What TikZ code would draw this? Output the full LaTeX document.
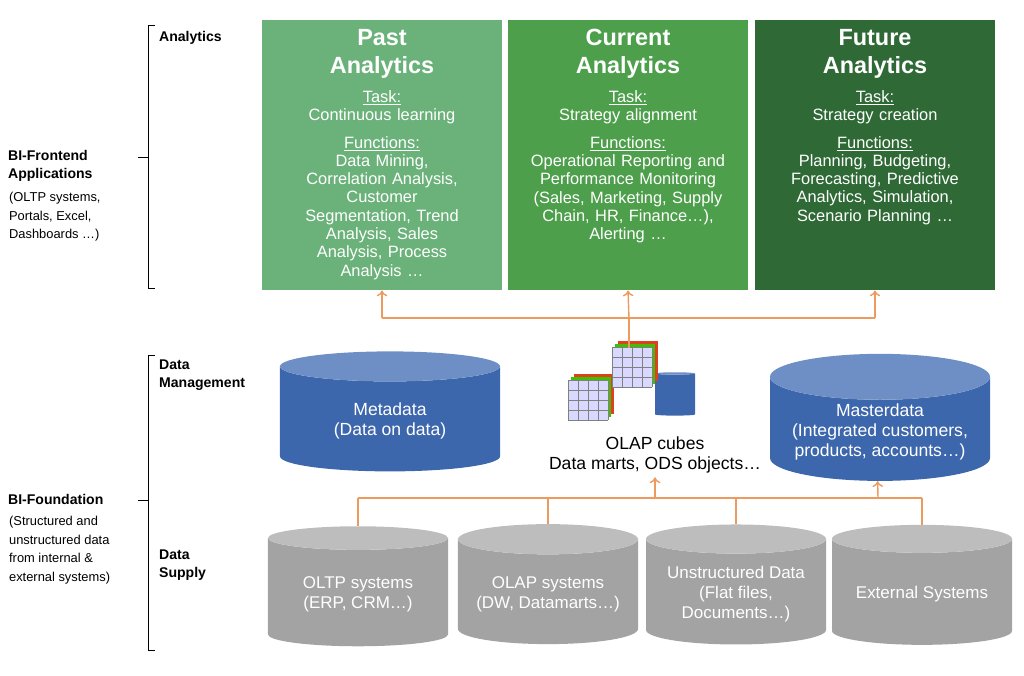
\documentclass[tikz,border=0pt]{standalone}
\usepackage{fontspec}
\setmainfont{Liberation Sans}
\usetikzlibrary{shapes.geometric, arrows, arrows.meta, positioning}
\definecolor{pastgreen}{HTML}{6BB27A}
\definecolor{curgreen}{HTML}{4E9F4C}
\definecolor{futgreen}{HTML}{2F6A36}
\definecolor{dbblue}{HTML}{3D67AC}
\definecolor{dbtop}{HTML}{6E8FC6}
\definecolor{dbgrey}{HTML}{A3A3A3}
\definecolor{dbgreytop}{HTML}{BDBDBD}
\definecolor{link}{HTML}{ED9A5E}
\newcommand{\boxtitle}[2]{{\bfseries\fontsize{20}{22}\selectfont #1}\\[8pt]{\bfseries\fontsize{20}{22}\selectfont #2}\\[9pt]}
\tikzstyle{analytics} = [rectangle, minimum width=7.2cm, minimum height=8.1cm, anchor=north]
\tikzstyle{boxtext} = [text width=7cm, align=center, anchor=north, text=white, font=\fontsize{14}{15.6}\selectfont, inner sep=2pt, yshift=-6pt]
\tikzstyle{bluedb} = [cylinder, shape border rotate=90, aspect=0.25, minimum width=6.6cm, minimum height=3.6cm, draw=none, cylinder uses custom fill, cylinder body fill=dbblue, cylinder end fill=dbtop, text=white, align=center, font=\fontsize{15}{17}\selectfont]
\tikzstyle{greydb} = [cylinder, shape border rotate=90, aspect=0.2, minimum width=5.4cm, minimum height=3.6cm, draw=none, cylinder uses custom fill, cylinder body fill=dbgrey, cylinder end fill=dbgreytop, text=white, align=center, font=\fontsize{14.5}{17}\selectfont]
\tikzstyle{layer} = [font=\bfseries\fontsize{12}{15}\selectfont, align=left, anchor=west]
\tikzstyle{sublayer} = [font=\fontsize{11}{16}\selectfont, align=left, anchor=north west]
\tikzstyle{arrow} = [line width=1.2pt, link, ->, >={To[length=5pt,width=9pt]}]
\tikzstyle{line} = [line width=1.2pt, link, -]

\begin{document}
\begin{tikzpicture}[x=0.03cm, y=-0.03cm]
\useasboundingbox (0,0) rectangle (1024,676);

% Analytics boxes
\node (past) [analytics, fill=pastgreen] at (382,20) {};
\node (current) [analytics, fill=curgreen] at (628,20) {};
\node (future) [analytics, fill=futgreen] at (875,20) {};
\node (pasttext) [boxtext] at (past.north) {\boxtitle{Past}{Analytics}
\underline{Task:}\\Continuous learning\\[8pt]\underline{Functions:}\\Data Mining,\\Correlation Analysis,\\Customer\\Segmentation, Trend\\Analysis, Sales\\Analysis, Process\\Analysis \ldots};
\node (currenttext) [boxtext] at (current.north) {\boxtitle{Current}{Analytics}
\underline{Task:}\\Strategy alignment\\[8pt]\underline{Functions:}\\Operational Reporting and\\Performance Monitoring\\(Sales, Marketing, Supply\\Chain, HR, Finance\ldots),\\Alerting \ldots};
\node (futuretext) [boxtext] at (future.north) {\boxtitle{Future}{Analytics}
\underline{Task:}\\Strategy creation\\[8pt]\underline{Functions:}\\Planning, Budgeting,\\Forecasting, Predictive\\Analytics, Simulation,\\Scenario Planning \ldots};

% Data management
\node (meta) [bluedb] at (390,421) {Metadata\\(Data on data)};
\node (master) [bluedb] at (880,432) {Masterdata\\(Integrated customers,\\products, accounts\ldots)};
\node (mart) [cylinder, shape border rotate=90, aspect=0.3, minimum width=1.2cm, minimum height=1.3cm, cylinder uses custom fill, cylinder body fill=dbblue, cylinder end fill=dbtop] at (675,395) {};
\node (olap) [align=center, font=\fontsize{15}{17}\selectfont] at (655,455) {OLAP cubes\\Data marts, ODS objects\ldots};
% cubes
\foreach \cx/\cy in {568/380, 612/347} {
  \fill[red!50!brown] (\cx+6,\cy-6) rectangle (\cx+46,\cy+34);
  \fill[green!50!olive] (\cx+3,\cy-3) rectangle (\cx+43,\cy+37);
  \fill[blue!15] (\cx,\cy) rectangle (\cx+40,\cy+40);
  \foreach \k in {0,10,...,40} {
    \draw[gray] (\cx+\k,\cy) -- (\cx+\k,\cy+40);
    \draw[gray] (\cx,\cy+\k) -- (\cx+40,\cy+\k);
  }
}

% Data supply
\node (oltp) [greydb] at (358,594) {OLTP systems\\(ERP, CRM\ldots)};
\node (olapsys) [greydb] at (548,594) {OLAP systems\\(DW, Datamarts\ldots)};
\node (unstr) [greydb] at (736,594) {Unstructured Data\\(Flat files,\\Documents\ldots)};
\node (ext) [greydb] at (922,594) {External Systems};

% Layer labels
\node (lanalytics) [layer] at (155,38) {Analytics};
\node (lfront) [layer] at (4,166) {BI-Frontend\\Applications};
\node (lfrontsub) [sublayer] at (5,188) {(OLTP systems,\\Portals, Excel,\\Dashboards \ldots)};
\node (lmgmt) [layer] at (155,375) {Data\\Management};
\node (lfound) [layer] at (4,499) {BI-Foundation};
\node (lfoundsub) [sublayer] at (5,512) {(Structured and\\unstructured data\\from internal \&\\external systems)};
\node (lsupply) [layer] at (155,565) {Data\\Supply};

% Brackets
\draw[thick] (155,25) -- (148,25) -- (148,288) -- (155,288);
\draw[thick] (138,157) -- (148,157);
\draw[thick] (155,355) -- (148,355) -- (148,650) -- (155,650);
\draw[thick] (138,500) -- (148,500);

% Links up to analytics
\coordinate (topbus) at (629,318);
\draw [line] (olap.north -| topbus) ++(0,-85) -- (topbus);
\draw [line] (past.south |- topbus) -- (future.south |- topbus);
\draw [arrow] (past.south |- topbus) -- (past.south);
\draw [arrow] (topbus) -- (current.south);
\draw [arrow] (future.south |- topbus) -- (future.south);

% Links up from data supply
\coordinate (lowbus) at (655,498);
\draw [line] (oltp.north |- lowbus) -- (ext.north |- lowbus);
\draw [line] (oltp.north |- lowbus) -- (oltp.north);
\draw [line] (olapsys.north |- lowbus) -- (olapsys.north);
\draw [line] (unstr.north |- lowbus) -- (unstr.north);
\draw [line] (ext.north |- lowbus) -- (ext.north);
\draw [arrow] (lowbus) -- (olap.south);
\draw [arrow] (master.south |- lowbus) ++(-2,0) -- ([xshift=-2]master.south);

\end{tikzpicture}
\end{document}
